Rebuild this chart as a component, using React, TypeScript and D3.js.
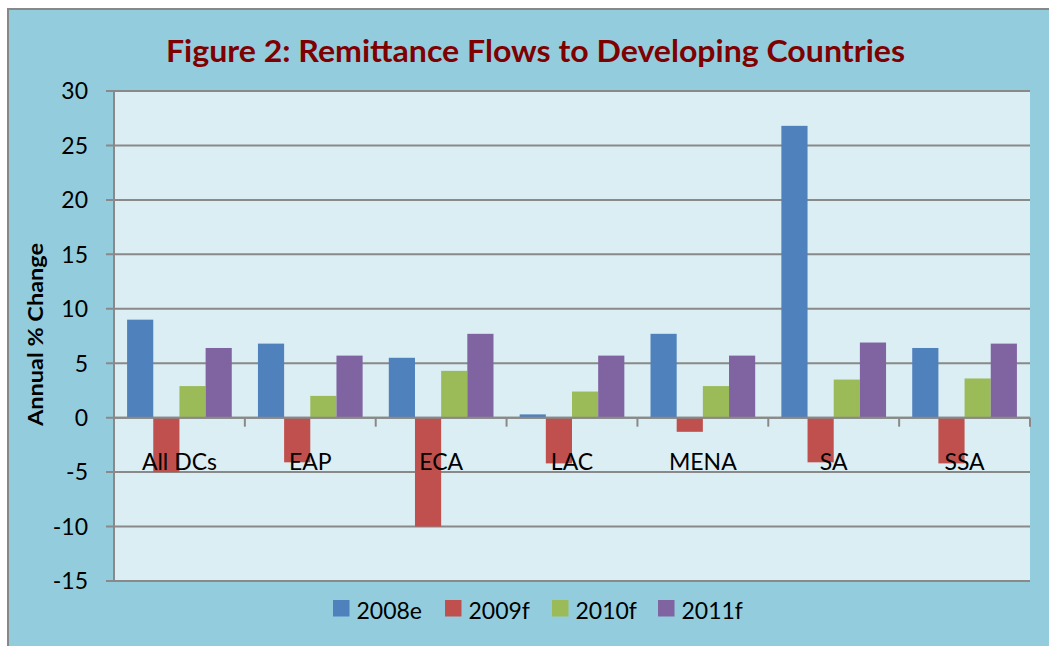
import React from "react";
import * as d3 from "d3";

const categories = ["All DCs", "EAP", "ECA", "LAC", "MENA", "SA", "SSA"];
const seriesNames = ["2008e", "2009f", "2010f", "2011f"];
const values2008e = [9.0, 6.8, 5.5, 0.3, 7.7, 26.8, 6.4];
const values2009f = [-5.0, -4.1, -10.0, -4.2, -1.3, -4.1, -4.2];
const values2010f = [2.9, 2.0, 4.3, 2.4, 2.9, 3.5, 3.6];
const values2011f = [6.4, 5.7, 7.7, 5.7, 5.7, 6.9, 6.8];
const yTicks = [30, 25, 20, 15, 10, 5, 0, -5, -10, -15];
const seriesColors = ["#4F81BD", "#C0504D", "#9BBB59", "#8064A2"];
const titleText = "Figure 2: Remittance Flows to Developing Countries";
const yAxisTitle = "Annual % Change";

const allSeries = [values2008e, values2009f, values2010f, values2011f];

export default function App() {
  const W = 1049;
  const H = 646;
  const left = 114, right = 1030, top = 91, bottom = 581;
  const y = d3.scaleLinear().domain([-15, 30]).range([bottom, top]);
  const x = d3.scaleBand<string>().domain(categories).range([left, right]).paddingInner(0).paddingOuter(0);
  const bw = x.bandwidth();
  const inner = d3.scaleBand<number>().domain([0, 1, 2, 3]).range([bw * 0.1, bw * 0.9]).padding(0);
  const gridColor = "#898989";
  const font = "Lato, 'Open Sans', sans-serif";
  const boundaries = categories.map((c) => x(c) as number).concat([right]);
  const legendX = [333, 445, 552, 658];

  return (
    <svg width={W} height={H} style={{ position: "absolute", left: 0, top: 0 }}>
      <rect x={0} y={0} width={W} height={H} fill="#ffffff" />
      <rect x={8} y={9} width={W + 10} height={H + 10} fill="#93CDDD" stroke="#888888" strokeWidth={2} />
      <text x={535.5} y={62} textAnchor="middle" fontFamily={font} fontWeight="bold" fontSize={30} fill="#7F0000" textLength={739} lengthAdjust="spacingAndGlyphs">
        {titleText}
      </text>
      <rect x={left} y={top} width={right - left} height={bottom - top} fill="#DBEEF4" />
      {yTicks.map((t) => (
        <g key={t}>
          <line x1={106} x2={right} y1={y(t)} y2={y(t)} stroke={gridColor} strokeWidth={2} />
          <text x={88} y={y(t)} dy="0.36em" textAnchor="end" fontFamily={font} fontSize={23} fill="#000">
            {t}
          </text>
        </g>
      ))}
      <line x1={left} x2={left} y1={top} y2={bottom} stroke={gridColor} strokeWidth={2} />
      {categories.map((c, i) => (
        <g key={c}>
          {allSeries.map((s, j) => {
            const v = s[i];
            const x0 = (x(c) as number) + (inner(j) as number);
            const y0 = Math.min(y(v), y(0));
            const h = Math.abs(y(v) - y(0));
            return <rect key={j} x={x0} y={y0} width={inner.bandwidth()} height={h} fill={seriesColors[j]} />;
          })}
        </g>
      ))}
      <line x1={left} x2={right} y1={y(0)} y2={y(0)} stroke={gridColor} strokeWidth={2} />
      {boundaries.map((b, i) => (
        <line key={i} x1={b} x2={b} y1={y(0)} y2={y(0) + 9} stroke={gridColor} strokeWidth={2} />
      ))}
      {categories.map((c) => (
        <text key={c} x={(x(c) as number) + bw / 2} y={470} textAnchor="middle" fontFamily={font} fontSize={23} fill="#000">
          {c}
        </text>
      ))}
      <text transform={`translate(43,334.5) rotate(-90)`} textAnchor="middle" fontFamily={font} fontWeight="bold" fontSize={21} fill="#000" textLength={183} lengthAdjust="spacingAndGlyphs">
        {yAxisTitle}
      </text>
      {seriesNames.map((n, j) => (
        <g key={n}>
          <rect x={legendX[j]} y={600} width={16.5} height={16.5} fill={seriesColors[j]} />
          <text x={legendX[j] + 23.5} y={619} fontFamily={font} fontSize={23} fill="#000">
            {n}
          </text>
        </g>
      ))}
    </svg>
  );
}
